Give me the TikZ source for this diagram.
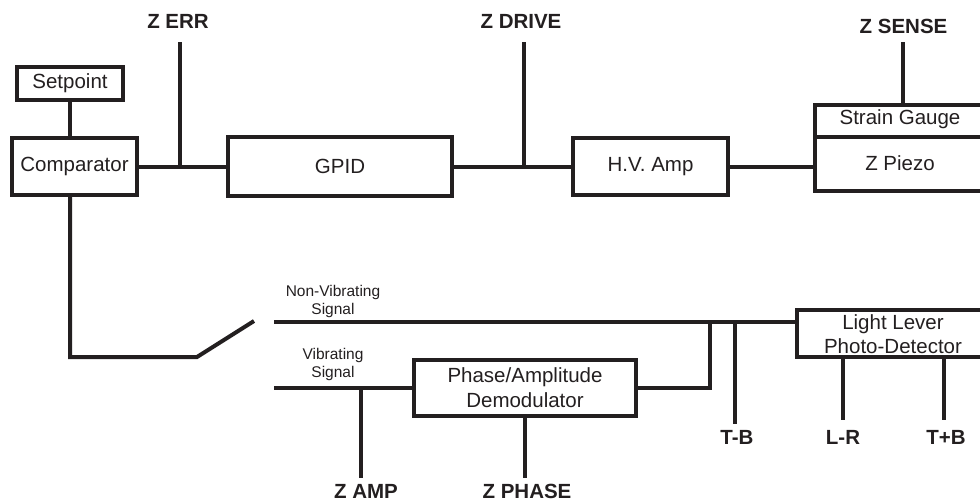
\documentclass[tikz,border=0pt]{standalone}
\usepackage{fontspec}
\setmainfont{Liberation Sans}
\definecolor{ink}{HTML}{231F20}
\begin{document}
\begin{tikzpicture}[x=1pt,y=-1pt,
  wire/.style={draw=ink, line width=4pt},
  box/.style={draw=ink, line width=4pt, inner sep=0pt, outer sep=0pt, text=ink,
              font=\fontsize{20.5}{25}\selectfont, align=center},
  boxtext/.style={inner sep=0pt, text=ink, font=\fontsize{20.5}{24}\selectfont, align=center},
  lbl/.style={inner sep=0pt, text=ink, font=\bfseries\fontsize{20.5}{24}\selectfont},
  sig/.style={inner sep=0pt, text=ink, font=\fontsize{15.5}{18}\selectfont, align=center}]
\useasboundingbox (0,0) rectangle (980,501);
\clip (0,0) rectangle (980,501);
% boxes
\node[box, minimum width=106pt, minimum height=33pt] (set) at (70,83.5) {Setpoint};
\node[box, minimum width=125pt, minimum height=57pt] (comp) at (74.5,166.5) {Comparator};
\node[box, minimum width=224pt, minimum height=59pt] (gpid) at (340,166.5) {GPID};
\node[box, minimum width=155pt, minimum height=57pt] (hv) at (650.5,166.5) {H.V. Amp};
\node[box, minimum width=205pt, minimum height=32pt, anchor=north west] (sg) at (815,105) {};
\node[box, minimum width=205pt, minimum height=54pt, anchor=north west] (zp) at (815,137) {};
\node[boxtext] (sgt) at (900,119) {Strain Gauge};
\node[boxtext] (zpt) at (900,163) {Z Piezo};
\node[box, minimum width=222pt, minimum height=56pt] (dem) at (525,388) {Phase/Amplitude\\Demodulator};
\node[box, minimum width=200pt, minimum height=47pt, anchor=north west] (ll) at (797,310) {};
\node[boxtext] (llt) at (893,334) {Light Lever\\Photo-Detector};
% labels
\node[lbl] (zerr) at (178,21.5) {Z ERR};
\node[lbl] (zdrive) at (521,21.5) {Z DRIVE};
\node[lbl] (zsense) at (903.5,26) {Z SENSE};
\node[lbl] (zamp) at (366,491) {Z AMP};
\node[lbl] (zphase) at (527,491) {Z PHASE};
\node[lbl] (tb) at (737,437) {T-B};
\node[lbl] (lr) at (843,437) {L-R};
\node[lbl] (tpb) at (946,437) {T+B};
\node[sig] (nvs) at (333,301) {Non-Vibrating\\Signal};
\node[sig] (vs) at (333,364) {Vibrating\\Signal};
% coordinates
\coordinate (zerrT) at (180,42);
\coordinate (zerrB) at (180,166.5);
\coordinate (zdrT) at (524,42);
\coordinate (zdrB) at (524,166.5);
\coordinate (zsT) at (903,42);
\coordinate (zsB) at (903,105);
\coordinate (sw1) at (70,357);
\coordinate (sw2) at (197,357);
\coordinate (sw3) at (254,321);
\coordinate (nv) at (274,322);
\coordinate (vb) at (274,388);
\coordinate (zaT) at (361,388);
\coordinate (zaB) at (361,478);
\coordinate (zpB) at (525,478);
\coordinate (dr1) at (710,388);
\coordinate (dr2) at (710,322);
\coordinate (tbT) at (735,322);
\coordinate (tbB) at (735,424);
\coordinate (lrT) at (843,357);
\coordinate (lrB) at (843,420);
\coordinate (tpbT) at (944,357);
\coordinate (tpbB) at (944,420);
% wires
\draw[wire] (set.south) -- (comp.north -| set.south);
\draw[wire] (comp.east) -- (gpid.west);
\draw[wire] (zerrT) -- (zerrB);
\draw[wire] (gpid.east) -- (hv.west);
\draw[wire] (zdrT) -- (zdrB);
\draw[wire] (hv.east) -- (hv.east -| zp.west);
\draw[wire] (zsT) -- (zsB);
\draw[wire] (comp.south -| set.south) -- (sw1) -- (sw2) -- (sw3);
\draw[wire] (nv) -- (nv -| ll.west);
\draw[wire] (vb) -- (dem.west);
\draw[wire] (zaT) -- (zaB);
\draw[wire] (dem.south) -- (zpB);
\draw[wire] (dem.east) -- (dr1) -- (dr2);
\draw[wire] (tbT) -- (tbB);
\draw[wire] (lrT) -- (lrB);
\draw[wire] (tpbT) -- (tpbB);
\end{tikzpicture}
\end{document}
